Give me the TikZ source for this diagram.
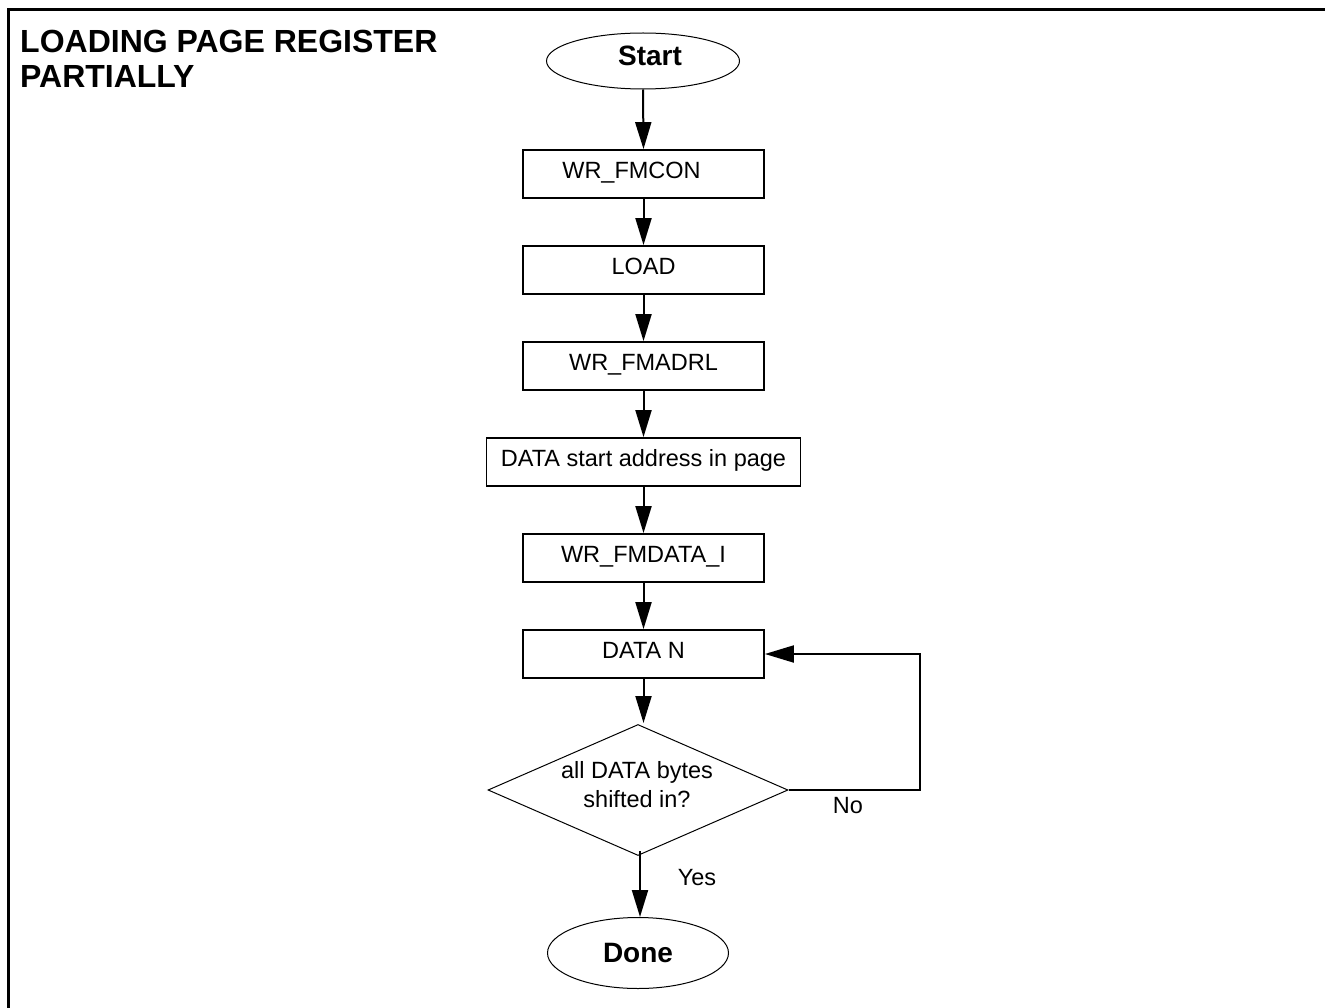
\documentclass[tikz,border=0pt]{standalone}
\usepackage{fontspec}
\setmainfont{Liberation Sans}
\usetikzlibrary{shapes.geometric,arrows.meta}
\begin{document}
\begin{tikzpicture}[x=1pt,y=-1pt,
  txt/.style={font=\fontsize{23.5}{29}\selectfont, inner sep=0pt},
  titletxt/.style={font=\fontsize{32}{35}\selectfont\bfseries, inner sep=0pt, anchor=base west},
  procbox/.style={draw, line width=1.8pt, minimum width=241pt, minimum height=48pt,
    inner sep=0pt, font=\fontsize{23.5}{29}\selectfont, text height=16.8pt, text depth=8pt},
  terminal/.style={draw, ellipse, line width=1pt, inner sep=0pt,
    font=\fontsize{28}{33}\selectfont\bfseries},
  decision/.style={draw, diamond, line width=1pt, inner sep=0pt, aspect=2.3,
    minimum width=300pt, minimum height=131pt},
  flow/.style={line width=2pt, -{Triangle[length=27pt,width=16pt]}},
  loopflow/.style={line width=2pt, -{Triangle[length=29pt,width=17pt]}}
]
\useasboundingbox (0,0) rectangle (1325,1008);

% outer frame (left and top edges)
\draw[line width=3pt] (8,1010) -- (8,10) -- (1327,10);

% heading
\node[titletxt] (title1) at (20,53) {LOADING PAGE REGISTER};
\node[titletxt] (title2) at (20,88) {PARTIALLY};

% flow steps
\node[terminal, minimum width=193pt, minimum height=56pt, text height=20pt, text depth=10pt]
  (start) at (643,61) {\hspace{14pt}Start};
\node[procbox] (fmcon)  at (643.5,174) {WR\_FMCON\kern24pt};
\node[procbox] (load)   at (643.5,270) {LOAD};
\node[procbox] (fmadrl) at (643.5,366) {WR\_FMADRL};
\node[procbox, minimum width=314pt] (addr) at (643.5,462) {DATA start address in page};
\node[procbox] (fmdata) at (643.5,558) {WR\_FMDATA\_I};
\node[procbox] (datan)  at (643.5,654) {DATA N};
\node[decision] (dec) at (638,790) {};
\node[txt, align=center] (dectext) at (637,785) {all DATA bytes\\shifted in?};
\node[terminal, minimum width=181pt, minimum height=71pt] (done) at (638,953) {Done};

% connectors
\draw[flow] (start.south) -- (fmcon.north);
\draw[flow] (fmcon.south) -- (load.north);
\draw[flow] (load.south) -- (fmadrl.north);
\draw[flow] (fmadrl.south) -- (addr.north);
\draw[flow] (addr.south) -- (fmdata.north);
\draw[flow] (fmdata.south) -- (datan.north);
\draw[flow] (datan.south) -- ([yshift=1pt]datan.south |- dec.north);
\coordinate (loopdown) at (920,790);
\coordinate (loopup) at (920,654);
\draw[loopflow] (dec.east) -- (loopdown) -- (loopup) -- (datan.east);
\draw[flow] ([shift={(2pt,5pt)}]dec.south) -- ([xshift=2pt]done.north);

% branch labels
\node[txt] (nolbl) at (848,806) {No};
\node[txt] (yeslbl) at (697,878) {Yes};
\end{tikzpicture}
\end{document}
